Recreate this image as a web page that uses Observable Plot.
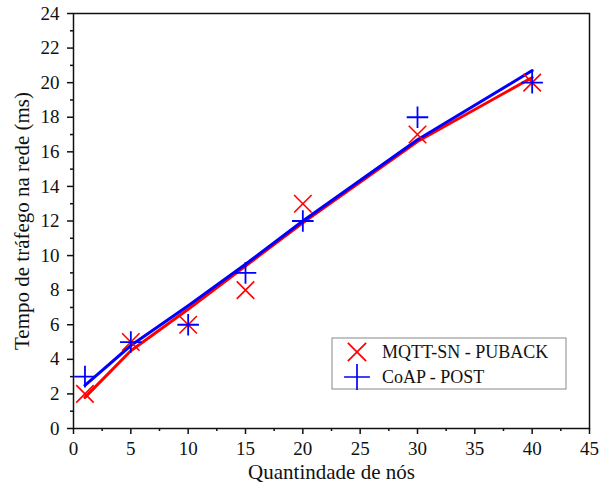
<!DOCTYPE html>
<html><head><meta charset="utf-8">
<script src="https://cdn.jsdelivr.net/npm/d3@7"></script>
<script src="https://cdn.jsdelivr.net/npm/@observablehq/plot@0.6"></script>
</head><body style="margin:0;background:#fff;">
<div id="chart"></div>
<script>
const nodes = [1, 5, 10, 15, 20, 30, 40];
const mqtt = [2, 5, 6, 8, 13, 17, 20];
const coap = [3, 5, 6, 9, 12, 18, 20];
const mqttFit = [1.8, 4.5, 6.9, 9.4, 11.9, 16.6, 20.3];
const coapFit = [2.5, 4.8, 7.1, 9.5, 12.0, 16.7, 20.7];
const xMajor = [0,5,10,15,20,25,30,35,40,45];
const xMinor = [2.5,7.5,12.5,17.5,22.5,27.5,32.5,37.5,42.5];
const yMajor = [0,2,4,6,8,10,12,14,16,18,20,22,24];
const yMinor = [1,3,5,7,9,11,13,15,17,19,21,23];
const seriesNames = ["MQTT-SN - PUBACK", "CoAP - POST"];
const seriesColors = ["#f00", "#00f"];
const seriesSymbols = [d3.symbolTimes, d3.symbolPlus];

const FONT = "'Liberation Serif', 'Times New Roman', Tinos, serif";
const mq = nodes.map((x,i)=>({x, y: mqtt[i], f: mqttFit[i]}));
const co = nodes.map((x,i)=>({x, y: coap[i], f: coapFit[i]}));

const chart = Plot.plot({
  width: 602, height: 486,
  marginLeft: 73, marginRight: 13, marginTop: 13, marginBottom: 58,
  style: {fontFamily: FONT, fontSize: "20px", color: "#111", background: "#fff"},
  x: {domain: [0,45]},
  y: {domain: [0,24]},
  marks: [
    Plot.frame({stroke: "#111", strokeWidth: 1.5}),
    Plot.axisX({ticks: xMajor, tickSize: 6, tickPadding: 7, strokeWidth: 1.5, label: null, fontSize: 19, fontFamily: FONT}),
    Plot.axisX({ticks: xMinor, tickSize: 3, strokeWidth: 1.5, tickFormat: () => "", label: null}),
    Plot.axisY({ticks: yMajor, tickSize: 6, tickPadding: 8, strokeWidth: 1.5, label: null, fontSize: 19, fontFamily: FONT}),
    Plot.axisY({ticks: yMinor, tickSize: 3, strokeWidth: 1.5, tickFormat: () => "", label: null}),
    Plot.line(mq, {x: "x", y: "f", stroke: "#f00", strokeWidth: 3}),
    Plot.line(co, {x: "x", y: "f", stroke: "#00f", strokeWidth: 3}),
    Plot.dot(mq, {x: "x", y: "y", symbol: "times", r: 8, stroke: "#f00", strokeWidth: 1.6}),
    Plot.dot(co, {x: "x", y: "y", symbol: "plus", r: 7, stroke: "#00f", strokeWidth: 1.8}),
    Plot.text(["Quantindade de nós"], {frameAnchor: "bottom", lineAnchor: "middle", dy: 44, fontSize: 21, fill: "#111", fontFamily: FONT}),
    Plot.text(["Tempo de tráfego na rede (ms)"], {frameAnchor: "left", textAnchor: "middle", lineAnchor: "middle", dx: -51, rotate: -90, fontSize: 21, fill: "#111", fontFamily: FONT})
  ]
});
// legend (lower right, inside the frame)
const svg = d3.select(chart);
const lg = svg.append("g").attr("transform", "translate(332,338)").attr("text-anchor", "start");
lg.append("rect").attr("width", 234).attr("height", 51)
  .attr("fill", "#fff").attr("stroke", "#888").attr("stroke-width", 1);
seriesNames.forEach((name, i) => {
  const row = lg.append("g").attr("transform", `translate(0,${14 + i * 25})`);
  row.append("path").attr("transform", "translate(25,0)")
    .attr("d", d3.symbol(seriesSymbols[i], 220)())
    .attr("fill", "none").attr("stroke", seriesColors[i]).attr("stroke-width", 1.7);
  row.append("text").attr("x", 50).attr("y", 0).attr("dy", "0.35em")
    .attr("text-anchor", "start").style("text-anchor", "start")
    .attr("font-size", 18).attr("fill", "#111").attr("font-family", FONT).text(name);
});
chart.querySelectorAll("text").forEach(t => t.setAttribute("font-family", FONT));
document.getElementById("chart").append(chart);
</script>
</body></html>
